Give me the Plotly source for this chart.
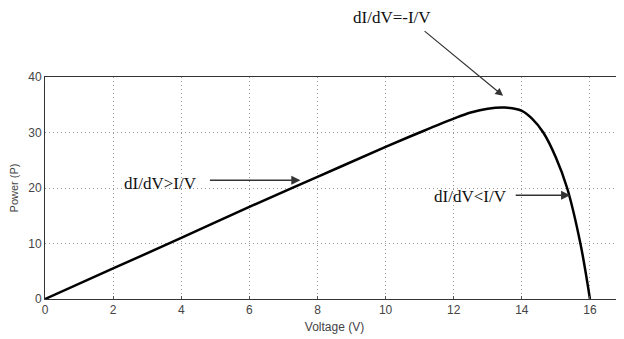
import plotly.graph_objects as go

voltage = [0, 2, 4, 6, 8, 10, 11, 12, 12.5, 13, 13.5, 14, 14.3, 14.63, 15.0, 15.33, 15.72, 16.0]
power = [0, 5.5, 11.0, 16.6, 22.0, 27.4, 30.0, 32.5, 33.6, 34.3, 34.5, 33.9, 32.5, 30.0, 25.5, 20.0, 10.0, 0]

x_ticks = [0, 2, 4, 6, 8, 10, 12, 14, 16]
y_ticks = [0, 10, 20, 30, 40]

fig = go.Figure()
fig.add_trace(go.Scatter(x=voltage, y=power, mode="lines",
                         line=dict(color="black", width=2.5, shape="spline", smoothing=1.0),
                         showlegend=False, hoverinfo="skip"))

serif = dict(family="Liberation Serif, Times New Roman, serif", size=17, color="#111")
anns = [
    dict(x=13.45, y=36.6, ax=-80, ay=-66, text="", showarrow=True, arrowhead=2, arrowsize=1.3,
         arrowwidth=1.2, arrowcolor="#333", xref="x", yref="y"),
    dict(x=10.2, y=1.266, text="dI/dV=-I/V", showarrow=False, font=serif, xref="x", yref="paper",
         xanchor="center", yanchor="middle"),
    dict(x=7.5, y=21.4, ax=-92, ay=0, text="", showarrow=True, arrowhead=2, arrowsize=1.3,
         arrowwidth=1.4, arrowcolor="#333", xref="x", yref="y"),
    dict(x=3.4, y=20.9, text="dI/dV>I/V", showarrow=False, font=serif, xref="x", yref="y"),
    dict(x=15.42, y=18.7, ax=-56, ay=0, text="", showarrow=True, arrowhead=2, arrowsize=1.3,
         arrowwidth=1.4, arrowcolor="#333", xref="x", yref="y"),
    dict(x=12.5, y=18.4, text="dI/dV<I/V", showarrow=False, font=serif, xref="x", yref="y"),
]
fig.update_layout(annotations=anns)

axis_font = dict(family="Liberation Sans, Arial, sans-serif", size=12, color="#444")
grid = dict(showgrid=True, gridcolor="#999", griddash="1px,3px", gridwidth=1)
fig.update_xaxes(range=[0, 17], tickvals=x_ticks, **grid, automargin=False,
                 showline=True, linecolor="#333", linewidth=1, mirror=True,
                 zeroline=False, ticks="inside", ticklen=3, tickcolor="#555", tickfont=axis_font,
                 title=dict(text="Voltage (V)", font=axis_font, standoff=6))
fig.update_yaxes(range=[0, 40], tickvals=y_ticks, **grid, automargin=False,
                 showline=True, linecolor="#333", linewidth=1, mirror=True,
                 zeroline=False, ticks="", tickfont=axis_font,
                 title=dict(text="Power (P)", font=dict(family="Liberation Sans, Arial, sans-serif", size=11, color="#444"), standoff=8))
fig.update_layout(width=624, height=339, margin=dict(l=37, r=8, t=69, b=48),
                  plot_bgcolor="white", paper_bgcolor="white")
fig.write_html("out.html")
